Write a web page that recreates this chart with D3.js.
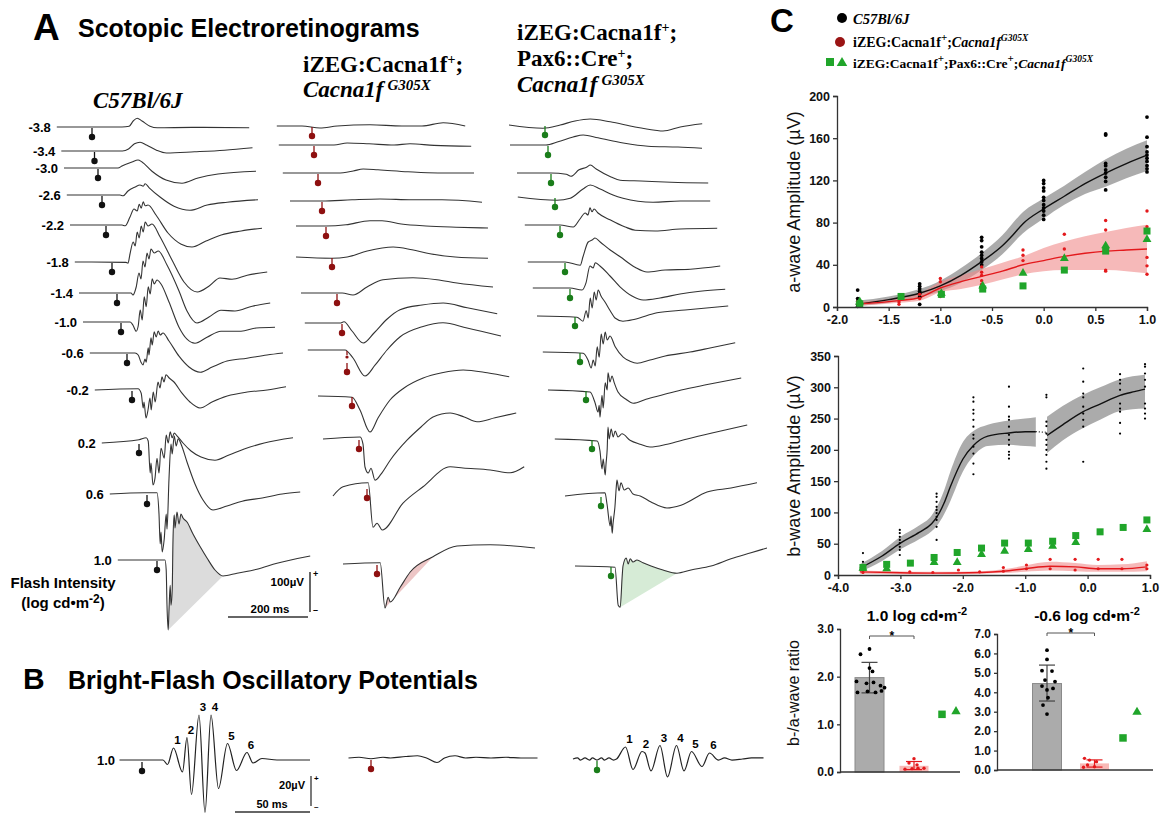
<!DOCTYPE html>
<html><head><meta charset="utf-8">
<script src="https://cdn.jsdelivr.net/npm/d3@7"></script>
<style>body{margin:0;background:#fff}svg{display:block}</style>
</head><body>
<script>
// ================= DATA =================
const intensities = ["-3.8","-3.4","-3.0","-2.6","-2.2","-1.8","-1.4","-1.0","-0.6","-0.2","0.2","0.6","1.0"];
// ERG traces: [time ms from flash, amplitude µV]
const ergWT = [
 [[-88,0],[75,0],[93,2],[103,15],[113,22],[125,15],[145,2],[163,-2],[250,-1],[393,-2]],
 [[-83,0],[70,0],[85,5],[100,18],[114,22],[130,15],[155,2],[180,-5],[250,-2],[325,2],[395,8]],
 [[-85,0],[50,0],[60,5],[85,15],[100,20],[110,15],[135,-8],[170,-30],[210,-38],[250,-25],[300,-15],[395,-8]],
 [[-88,0],[45,0],[53,-2],[65,10],[83,20],[95,25],[103,22],[108,28],[118,18],[145,-5],[180,-28],[220,-38],[263,-25],[313,-18],[390,-12]],
 [[-90,0],[40,0],[48,-2],[60,20],[70,40],[78,35],[83,52],[88,42],[93,58],[98,48],[105,50],[125,25],[155,-20],[188,-48],[215,-55],[250,-40],[288,-25],[338,-15],[390,-8]],
 [[-93,0],[35,-1],[40,-3],[45,20],[53,50],[58,40],[63,75],[68,60],[73,90],[78,75],[83,100],[90,90],[100,95],[120,63],[150,5],[180,-50],[213,-75],[243,-60],[270,-40],[300,-43],[338,-33],[388,-25]],
 [[-95,0],[35,0],[40,-5],[48,15],[55,50],[60,35],[65,80],[70,65],[75,100],[80,85],[85,110],[93,100],[103,105],[125,70],[155,5],[175,-45],[200,-75],[230,-60],[260,-43],[295,-45],[338,-33],[383,-25]],
 [[-95,0],[23,0],[30,-8],[38,-23],[43,-10],[48,30],[53,5],[58,63],[63,38],[68,88],[73,70],[78,108],[83,95],[90,105],[100,95],[120,50],[145,-13],[165,-43],[185,-53],[215,-38],[250,-23],[300,-23],[338,-15],[385,-13]],
 [[-93,0],[20,0],[28,-5],[35,-23],[40,-30],[45,-15],[48,-23],[53,13],[55,-5],[60,38],[63,20],[68,53],[73,40],[78,55],[83,45],[90,50],[105,30],[130,-8],[155,-35],[183,-48],[213,-35],[250,-20],[300,-13],[350,-5],[390,0]],
 [[-93,0],[15,3],[23,-8],[28,-45],[30,-30],[35,-70],[40,-50],[45,-20],[48,-50],[53,-5],[58,-30],[65,20],[70,5],[75,33],[80,20],[85,38],[93,30],[105,20],[125,-8],[145,-30],[170,-45],[200,-30],[238,-15],[288,-5],[338,0],[385,8]],
 [[-93,0],[0,8],[18,13],[23,5],[28,-75],[30,-50],[35,-105],[40,-88],[45,-38],[50,-75],[55,-13],[63,-38],[68,20],[73,0],[78,28],[83,13],[88,25],[95,18],[110,0],[130,-20],[155,-35],[190,-43],[225,-30],[263,-15],[313,0],[385,13]],
 [[-93,0],[-5,3],[25,3],[30,-50],[33,-125],[35,-95],[38,-145],[43,-113],[48,-50],[50,-88],[55,38],[60,125],[63,100],[68,145],[73,120],[78,138],[85,125],[100,80],[120,25],[140,-15],[165,-40],[200,-30],[238,-18],[288,-10],[338,0],[383,5]],
 [[-98,0],[20,0],[23,-25],[25,-113],[28,-175],[30,-125],[33,-63],[35,-113],[38,-75],[40,50],[43,113],[45,80],[50,120],[55,90],[60,115],[65,105],[75,95],[90,65],[108,33],[125,5],[145,-25],[165,-40],[200,-33],[250,-23],[300,-8],[383,10]]
];
const ergMut = [
 [[-88,0],[-25,0],[20,-5],[63,0],[145,3],[225,0],[275,0],[328,8],[383,0]],
 [[-88,0],[0,0],[50,0],[83,5],[138,3],[200,0],[240,3],[300,-1],[393,-3]],
 [[-88,0],[0,0],[50,0],[88,5],[113,10],[150,8],[225,3],[300,0],[390,0]],
 [[-80,0],[0,0],[75,3],[145,5],[225,3],[300,3],[400,-3]],
 [[-75,0],[0,0],[50,3],[110,13],[140,13],[188,5],[250,0],[325,-3],[405,-5]],
 [[-90,0],[0,-3],[38,0],[88,15],[153,25],[200,18],[245,8],[308,0],[390,-3]],
 [[-90,0],[13,0],[40,-5],[75,15],[115,33],[190,38],[250,33],[300,25],[390,15]],
 [[-93,0],[-5,0],[5,3],[25,-20],[53,-50],[80,-25],[113,10],[145,33],[200,45],[253,50],[313,38],[388,23]],
 [[-98,0],[-5,0],[15,-20],[45,-65],[70,-38],[100,0],[133,33],[188,58],[240,68],[300,55],[385,35]],
 [[-85,0],[0,-3],[20,-35],[45,-90],[65,-55],[95,-10],[130,20],[178,45],[225,58],[278,65],[338,58],[393,48]],
 [[-90,0],[3,5],[10,-13],[15,-70],[23,-85],[30,-73],[40,-103],[55,-88],[78,-53],[120,-3],[155,30],[185,55],[228,65],[263,55],[295,43],[340,53],[393,65]],
 [[-85,-20],[-60,3],[3,13],[15,-98],[25,-88],[38,-105],[90,-38],[140,3],[208,53],[240,50],[308,45],[358,38],[393,53]],
 [[-85,0],[8,3],[20,-110],[28,-83],[33,-95],[58,-58],[83,-20],[140,18],[200,45],[283,48],[395,40]]
];
const ergRes = [
 [[-90,0],[-5,-8],[38,0],[75,10],[113,15],[163,8],[225,-5],[275,-13],[295,-15],[338,-5],[393,3]],
 [[-95,0],[-5,0],[25,8],[63,20],[88,25],[125,18],[188,5],[250,-3],[325,-5],[385,-8]],
 [[-85,0],[0,0],[38,-3],[50,-8],[70,8],[90,15],[98,20],[113,10],[150,-10],[173,-18],[225,-20],[300,-23],[393,-25]],
 [[-93,0],[5,-8],[38,-3],[70,20],[88,30],[113,20],[145,5],[170,-3],[245,-13],[313,-10],[388,-10]],
 [[-88,0],[0,0],[33,-5],[50,15],[63,30],[70,25],[75,43],[80,33],[85,40],[95,30],[125,13],[163,-5],[188,-13],[238,-15],[300,-10],[393,-8]],
 [[-93,0],[0,0],[38,-8],[45,13],[58,50],[68,55],[75,60],[88,50],[113,30],[138,13],[175,-13],[205,-25],[250,-20],[313,-18],[388,-10]],
 [[-93,0],[0,0],[30,-5],[40,13],[50,55],[58,50],[63,63],[75,55],[100,30],[125,3],[155,-20],[183,-30],[225,-25],[275,-15],[325,-8],[388,-3]],
 [[-95,0],[5,-3],[20,-13],[28,13],[33,-5],[38,45],[43,20],[48,60],[53,40],[58,65],[65,50],[75,35],[88,13],[100,-5],[120,-13],[150,-8],[205,8],[275,15],[383,25]],
 [[-93,0],[8,-3],[20,-20],[28,-40],[33,-20],[38,-35],[43,13],[48,-13],[53,45],[58,20],[63,50],[68,30],[75,40],[88,13],[108,-13],[125,-23],[143,-28],[175,-20],[213,-10],[275,0],[325,10],[388,23]],
 [[-95,0],[10,-5],[23,-33],[30,-55],[33,-38],[35,-68],[40,-13],[43,-45],[48,18],[53,0],[55,43],[60,20],[65,35],[70,20],[80,-5],[100,-23],[118,-33],[150,-23],[188,-13],[238,0],[300,13],[388,30]],
 [[-93,0],[13,-5],[20,-30],[25,-75],[28,-50],[33,-90],[35,-63],[38,-25],[40,30],[43,0],[48,25],[53,5],[58,20],[65,5],[75,13],[95,-3],[120,-13],[145,-20],[188,-13],[238,0],[300,15],[388,35]],
 [[-90,0],[10,8],[15,-20],[23,-75],[25,-50],[28,-93],[30,-70],[35,-25],[38,20],[40,40],[45,13],[50,33],[58,15],[68,20],[80,5],[98,0],[125,-15],[165,-30],[200,-23],[265,10],[325,20],[390,33]],
 [[-90,0],[10,-3],[18,-98],[23,-103],[28,-25],[30,0],[38,20],[43,5],[48,18],[55,10],[65,15],[80,8],[100,0],[130,-10],[165,-18],[200,-10],[250,0],[300,18],[350,33],[390,45]]
];
// shaded b-wave area for bright flash (ms range)
const fillRanges = [[28,165],[20,150],[23,165]];

// Oscillatory potentials (ms, µV)
const opWT = [[-15,0],[14,0],[17,-3],[21,8],[27,-8],[30,15],[33,-23],[38,30],[42,-35],[46,30],[51,-19],[57,11],[63,-7],[70,5],[74,-2],[80,1],[90,0],[112,0]];
const opMut = [[-15,0],[-8,0.5],[0,-0.5],[8,0.5],[13,0],[23,1],[31,1.5],[37,0],[44,-3],[49,0],[56,1.5],[63,0],[70,0.5],[80,0],[90,0.5],[100,0],[111,0]];
const opRes = [[-16,0],[-13,0.7],[-11,-0.7],[-8,0.7],[-5,-0.7],[-3,0.7],[0,-0.7],[3,0.7],[5,-0.7],[8,0.7],[11,-0.7],[13,0],[19,8],[24,-7],[30,5],[32,4],[36,-8],[42,9],[47,-12],[53,9],[58,-8],[63,5],[70,-5],[75,4],[81,-0.7],[85,0.7],[90,-0.7],[97,0],[103,0.7],[111,0.7]];
const opPeaksWT = [3,5,7,9,11,13];
const opPeaksRes = [12,14,17,19,21,23];
const opNames = ["1","2","3","4","5","6"];

// Panel C: a-wave
const awTicksX = [-2,-1.5,-1,-0.5,0,0.5,1];
const awTicksY = [0,40,80,120,160,200];
const awWTDots = [[-1.8,[16,8,5,2.5,0.6]],[-1.2,[22,19.6,17.4,14.9,12.7,9.5,2.5]],[-0.6,[66,63,57,52,49,46,43,40]],[0,[120,117,113,110,104,101,97,94,91,87,83]],[0.6,[164,163,136,134,130,127,123,119,111]],[1,[180,161,152,147,144,141,138,134,131,128]]];
const awWTFit = [[-1.8,2.5],[-1.5,7],[-1.2,13],[-1.0,20],[-0.8,30],[-0.6,43],[-0.4,58],[-0.3,68],[-0.2,79],[0,93],[0.2,105],[0.4,117],[0.6,127],[0.8,136],[1,144]];
const awWTBand = [[-1.8,1,6],[-1.5,4,10],[-1.2,9.5,17],[-1.0,15,25],[-0.8,23,37],[-0.6,35,51],[-0.4,50,68],[-0.2,70,90],[0,84,103],[0.2,97,115],[0.4,107,128],[0.6,114,140],[0.8,122,150],[1,129,158]];
const awMutDots = [[-1.8,[3.2,5]],[-1.4,[2.5,4.7]],[-1.2,[12,8]],[-1.0,[27,24,13.6,10]],[-0.6,[38,33,30,25,21.5]],[-0.2,[54,49,44]],[0.2,[69,55,46]],[0.6,[82,73,35,34]],[1,[91,76,47,39,31]]];
const awMutFit = [[-1.8,3],[-1.4,6],[-1.2,9],[-1.0,18],[-0.8,24],[-0.6,29],[-0.4,34],[-0.2,40],[0,44],[0.2,48],[0.4,51],[0.6,53],[0.8,54],[1,55]];
const awMutBand = [[-1.8,1,5],[-1.4,4,9],[-1.2,6,13],[-1.0,14,24],[-0.8,17,30],[-0.6,21,36],[-0.4,26,42],[-0.2,31,48],[0,34,56],[0.2,35,62],[0.4,35,67],[0.6,35,71],[0.8,34,75],[1,32,78]];
const awResSq = [[-1.78,3],[-1.38,10],[-0.99,12],[-0.59,17],[-0.2,20],[0.2,35],[0.6,53],[1,72]];
const awResTri = [[-1.78,5],[-0.99,13],[-0.59,20],[-0.2,32],[0.2,46],[0.6,58],[1,64]];

// Panel C: b-wave
const bwTicksX = [-4,-3,-2,-1,0,1];
const bwTicksY = [0,50,100,150,200,250,300,350];
const bwWTDots = [[-3.6,[35,21,13,9,7]],[-3.01,[72,67,61,56,51,45,40,32]],[-2.42,[130,125,117,109,104,99,93,88,77,56]],[-1.83,[284,277,264,258,248,237,224,218,205,194,178,161]],[-1.26,[301,269,253,248,237,224,216,208,197,192,186]],[-0.66,[288,284,245,238,226,216,208,200,192,181,170]],[-0.07,[330,309,290,284,269,258,248,237,181]],[0.52,[321,312,306,296,274,266,261,243,226]],[0.92,[337,333,322,312,301,274,266,258,250]]];
const bwWTFit1 = [[-3.65,11],[-3.3,30],[-3.0,51],[-2.7,68],[-2.5,82],[-2.42,92],[-2.3,115],[-2.2,141],[-2.0,185],[-1.83,207],[-1.6,222],[-1.26,227],[-1.0,229],[-0.83,229]];
const bwWTBand1 = [[-3.65,5,17],[-3.3,22,38],[-3.0,41,61],[-2.7,57,79],[-2.5,70,95],[-2.42,78,108],[-2.3,97,135],[-2.2,118,165],[-2.0,165,212],[-1.83,190,230],[-1.6,206,240],[-1.26,208,247],[-1.0,206,250],[-0.83,205,252]];
const bwWTFit2 = [[-0.65,223],[-0.4,240],[-0.07,261],[0.2,273],[0.52,287],[0.75,293],[0.92,297]];
const bwWTBand2 = [[-0.65,195,253],[-0.4,215,270],[-0.07,235,288],[0.2,248,300],[0.52,262,313],[0.92,266,320]];
const bwWTBridge = [[-0.83,229],[-0.65,228]];
const bwMutDots = [[-3.6,[4]],[-2.85,[5]],[-2.48,[4]],[-2.07,[8]],[-1.73,[5]],[-1.35,[12,6]],[-0.98,[16,10]],[-0.6,[25,10]],[-0.2,[25,8]],[0.17,[25,10]],[0.55,[25,10]],[0.95,[16,10]]];
const bwMutFit = [[-3.65,5],[-3.0,3.5],[-2.5,3],[-1.7,4],[-1.35,6],[-1.0,10],[-0.6,14],[-0.2,13],[0.17,10],[0.55,10],[0.95,13]];
const bwMutBand = [[-3.65,2,7],[-2.5,1,5],[-1.7,2,6],[-1.35,3,9],[-1.0,5,15],[-0.6,7,21],[-0.2,6,19],[0.17,5,16],[0.55,5,17],[0.95,6,22]];
const bwResSq = [[-3.6,12],[-3.22,17],[-2.84,19],[-2.46,28],[-2.09,36],[-1.7,43],[-1.33,51],[-0.95,51],[-0.56,54],[-0.19,63],[0.2,69],[0.57,76],[0.95,88]];
const bwResTri = [[-3.6,11],[-3.22,10],[-2.46,20],[-2.09,20],[-1.7,33],[-1.33,38],[-0.95,41],[-0.56,46],[-0.19,52],[0.95,73]];

// Panel C: b/a ratio bars
const barGroups = ["C57Bl/6J","iZEG:Cacna1f+;Cacna1fG305X","iZEG:Cacna1f+;Pax6::Cre+;Cacna1fG305X"];
const ratioTitles = ["1.0 log cd\u2022m","-0.6 log cd\u2022m"];
const ratioTicks = [[0,1,2,3],[0,1,2,3,4,5,6,7]];
const ratioMeans = [[1.98,0.13],[4.45,0.34]];
const ratioErr = [[[1.66,2.30],[0.05,0.22]],[[3.55,5.40],[0.15,0.52]]];
const ratioDotsWT = [[2.58,2.47,2.18,2.11,1.90,1.86,1.88,1.81,1.77,1.67,1.69,1.67,1.70],[6.17,5.69,5.11,5.09,4.63,4.55,4.32,4.2,4.12,3.72,3.34,2.88]];
const ratioDotsMut = [[0.28,0.19,0.15,0.06,0.07,0.08,0.08],[0.6,0.51,0.43,0.26,0.17,0.14]];
const ratioResSq = [1.21,1.65];
const ratioResTri = [1.27,2.98];

// ================= LAYOUT / STYLE =================
const SANS = "'Liberation Sans',Arial,Helvetica,sans-serif";
const SERIF = "'Liberation Serif','Times New Roman',Times,serif";
const flashX = [[92,94.5,98,102,106,112,117,121,127,132,139,147,157],[312,314,318,322,326,332,337,342,347,352,359,367,377],[545,548,551,555,560,565,570,575,580,586,592,601,611]];
const baseY = [[127,151,168,195,225,262,293,322,353,390,443,494,560],[126,145,173,201,226,257,293,323,350,396,439,488,564],[125,145,173,197,225,262,288,316,352,390,439,496,566]];
const markColors = ["#111","#8e1010","#1a7d1a"];
const fillColors = ["#dcdcdc","#edc6c6","#d6ebd6"];
const opFlash = [142,371,597], opBase = [760,758,759];
const GREEN = "#20a52a", RED = "#e3191c", DKRED="#9a1414";

const svg = d3.select("body").append("svg").attr("width",1164).attr("height",814);

function txt(x,y,s,o){
  o=o||{};
  return svg.append("text").attr("x",x).attr("y",y).text(s)
    .attr("font-family",o.f||SANS).attr("font-size",o.s||12)
    .attr("font-weight",o.w||"bold").attr("font-style",o.i?"italic":"normal")
    .attr("text-anchor",o.a||"start").attr("fill",o.c||"#000");
}
function rich(x,y,parts,o){
  const t=svg.append("text").attr("x",x).attr("y",y).attr("font-family",o.f||SERIF)
    .attr("font-size",o.s).attr("font-weight","bold").attr("fill","#000").attr("text-anchor",o.a||"start");
  let shift=0;
  parts.forEach(p=>{
    const sp=t.append("tspan").text(p.t);
    if(p.i) sp.attr("font-style","italic");
    if(p.fs) sp.attr("font-size",p.fs);
    if(p.dx) sp.attr("dx",p.dx);
    const target=p.sup? -p.sup : 0;
    if(target!==shift){ sp.attr("dy",target-shift); shift=target; }
  });
  return t;
}

// ---------- Panel A ----------
txt(33,40,"A",{s:37});
txt(78,37,"Scotopic Electroretinograms",{s:25});
txt(93,108,"C57Bl/6J",{f:SERIF,s:23,i:1});
rich(303,72,[{t:"iZEG:Cacna1f"},{t:"+",sup:8,fs:14},{t:";"}],{s:23});
rich(303,97,[{t:"Cacna1f",i:1},{t:"G305X",i:1,sup:7,fs:15,dx:4}],{s:23});
rich(517,40,[{t:"iZEG:Cacna1f"},{t:"+",sup:8,fs:14},{t:";"}],{s:23});
rich(517,66,[{t:"Pax6::Cre"},{t:"+",sup:8,fs:14},{t:";"}],{s:23});
rich(517,92,[{t:"Cacna1f",i:1},{t:"G305X",i:1,sup:7,fs:15,dx:4}],{s:23});

const msA = d3.scaleLinear().domain([0,200]).range([0,80]);
const uvA = d3.scaleLinear().domain([0,100]).range([0,-40]);
const groups = [ergWT, ergMut, ergRes];

groups.forEach((traces,ci)=>{
  traces.forEach((pts,ri)=>{
    const fx=flashX[ci][ri], by=baseY[ci][ri];
    const line=d3.line().x(d=>fx+msA(d[0])).y(d=>by+uvA(d[1])).curve(d3.curveMonotoneX);
    if(ri===traces.length-1){
      const fr=fillRanges[ci];
      const sub=pts.filter(d=>d[0]>=fr[0]&&d[0]<=fr[1]);
      svg.append("path").attr("d",line(sub)+"Z").attr("fill",fillColors[ci]).attr("stroke","none");
    }
    svg.append("path").attr("d",line(pts)).attr("fill","none").attr("stroke","#333").attr("stroke-width",1.1);
    // flash marker
    const mc=markColors[ci];
    if(ci===1 && ri===8){
      svg.append("line").attr("x1",fx).attr("x2",fx).attr("y1",by+1).attr("y2",by+5).attr("stroke",mc).attr("stroke-width",1.3);
      svg.append("circle").attr("cx",fx).attr("cy",by+7).attr("r",1.6).attr("fill",mc);
      svg.append("line").attr("x1",fx).attr("x2",fx).attr("y1",by+13).attr("y2",by+19).attr("stroke",mc).attr("stroke-width",1.3);
      svg.append("circle").attr("cx",fx).attr("cy",by+22).attr("r",3.2).attr("fill",mc);
    } else {
      svg.append("line").attr("x1",fx).attr("x2",fx).attr("y1",by+1).attr("y2",by+8).attr("stroke",mc).attr("stroke-width",1.3);
      svg.append("circle").attr("cx",fx).attr("cy",by+10).attr("r",3.2).attr("fill",mc);
    }
    if(ci===0){
      txt(fx+msA(pts[0][0])-6, by+5, intensities[ri], {s:13,a:"end"});
    }
  });
});
// scale bars A
{
  const x0=310, y0=612;
  svg.append("line").attr("x1",x0).attr("x2",x0).attr("y1",y0).attr("y2",y0+uvA(100)).attr("stroke","#333").attr("stroke-width",1.5);
  svg.append("line").attr("x1",x0-2).attr("x2",x0-2-msA(200)).attr("y1",617).attr("y2",617).attr("stroke","#333").attr("stroke-width",1.5);
  txt(304,586,"100\u00b5V",{s:11.5,a:"end"});
  txt(270,613,"200 ms",{s:11.5,a:"middle"});
  txt(313,577,"+",{s:9});
  txt(313,613,"\u2013",{s:9});
  txt(63,588,"Flash Intensity",{s:15,a:"middle"});
  rich(63,608,[{t:"(log cd\u2022m"},{t:"-2",sup:5,fs:12},{t:")"}],{f:SANS,s:15,a:"middle"});
}

// ---------- Panel B ----------
txt(23,689,"B",{s:30});
txt(68,689,"Bright-Flash Oscillatory Potentials",{s:25});
const msB = d3.scaleLinear().domain([0,50]).range([0,75]);
const uvB = d3.scaleLinear().domain([0,20]).range([0,-30]);
[opWT,opMut,opRes].forEach((pts,ci)=>{
  const fx=opFlash[ci], by=opBase[ci];
  const line=d3.line().x(d=>fx+msB(d[0])).y(d=>by+uvB(d[1])).curve(d3.curveMonotoneX);
  svg.append("path").attr("d",line(pts)).attr("fill","none").attr("stroke","#222").attr("stroke-width",1.2);
  const mc=markColors[ci];
  svg.append("line").attr("x1",fx).attr("x2",fx).attr("y1",by+2).attr("y2",by+8).attr("stroke",mc).attr("stroke-width",1.3);
  svg.append("circle").attr("cx",fx).attr("cy",by+11).attr("r",3.2).attr("fill",mc);
  const pk = ci===0?opPeaksWT:(ci===2?opPeaksRes:null);
  if(pk) pk.forEach((idx,k)=>{
    const d=pts[idx];
    txt(fx+msB(d[0])+4, by+uvB(d[1])-4, opNames[k], {s:11.5,a:"middle"});
  });
});
txt(115,765,"1.0",{s:13,a:"end"});
{
  const x0=311, y0=806;
  svg.append("line").attr("x1",x0).attr("x2",x0).attr("y1",y0).attr("y2",y0+uvB(20)).attr("stroke","#333").attr("stroke-width",1.3);
  svg.append("line").attr("x1",x0-1).attr("x2",x0-1-msB(50)).attr("y1",812).attr("y2",812).attr("stroke","#333").attr("stroke-width",1.5);
  txt(305,789,"20\u00b5V",{s:11,a:"end"});
  txt(272,808,"50 ms",{s:11,a:"middle"});
  txt(314,781,"+",{s:8});
  txt(314,809,"\u2013",{s:8});
}

// ---------- Panel C ----------
txt(770,32,"C",{s:33});
// legend
svg.append("circle").attr("cx",842).attr("cy",18).attr("r",5).attr("fill","#000");
txt(853,24,"C57Bl/6J",{f:SERIF,s:14.5,i:1});
svg.append("circle").attr("cx",840).attr("cy",42).attr("r",5).attr("fill",DKRED);
rich(853,47,[{t:"iZEG:Cacna1f"},{t:"+",sup:6,fs:11},{t:";"},{t:"Cacna1f",i:1},{t:"G305X",i:1,sup:6,fs:9.5}],{s:14});
svg.append("rect").attr("x",826).attr("y",58).attr("width",8).attr("height",8).attr("fill",GREEN);
svg.append("path").attr("d",d3.symbol(d3.symbolTriangle,48)()).attr("transform","translate(842,63)").attr("fill",GREEN);
rich(853,68,[{t:"iZEG:Cacna1f"},{t:"+",sup:6,fs:11},{t:";Pax6::Cre"},{t:"+",sup:6,fs:11},{t:";"},{t:"Cacna1f",i:1},{t:"G305X",i:1,sup:6,fs:9.5}],{s:13.5});

const fmt1 = d=>d3.format(".1f")(d).replace("\u2212","-");
function styleAxis(g,fs){
  g.selectAll("path.domain").attr("stroke","#333").attr("stroke-width",1.3);
  g.selectAll(".tick line").attr("stroke","#333").attr("stroke-width",1.3);
  g.selectAll("text").attr("font-family",SANS).attr("font-weight","bold").attr("font-size",fs).attr("fill","#111");
}
function yTitle(x,y,s,fs){
  svg.append("text").attr("transform",`translate(${x},${y}) rotate(-90)`).attr("text-anchor","middle")
    .attr("font-family",SANS).attr("font-size",fs).attr("fill","#111").text(s);
}
function scatterGroups(x,y,data,r,col){
  data.forEach(([xv,vals])=>vals.forEach(v=>svg.append("circle").attr("cx",x(xv)).attr("cy",y(v)).attr("r",r).attr("fill",col)));
}
function squares(x,y,data,s){
  data.forEach(d=>svg.append("rect").attr("x",x(d[0])-s/2).attr("y",y(d[1])-s/2).attr("width",s).attr("height",s).attr("fill",GREEN));
}
function triangles(x,y,data,a){
  data.forEach(d=>svg.append("path").attr("d",d3.symbol(d3.symbolTriangle,a)()).attr("transform",`translate(${x(d[0])},${y(d[1])})`).attr("fill",GREEN));
}
function band(x,y,data,col,op){
  const ar=d3.area().x(d=>x(d[0])).y0(d=>y(d[1])).y1(d=>y(d[2])).curve(d3.curveMonotoneX);
  svg.append("path").attr("d",ar(data)).attr("fill",col).attr("fill-opacity",op);
}
function fit(x,y,data,col,w,dash){
  const ln=d3.line().x(d=>x(d[0])).y(d=>y(d[1])).curve(d3.curveMonotoneX);
  const p=svg.append("path").attr("d",ln(data)).attr("fill","none").attr("stroke",col).attr("stroke-width",w);
  if(dash) p.attr("stroke-dasharray",dash);
}

// a-wave chart
{
  const x=d3.scaleLinear().domain([-2,1]).range([837,1147]);
  const y=d3.scaleLinear().domain([0,200]).range([307,96]);
  band(x,y,awWTBand,"#8f8f8f",0.75);
  band(x,y,awMutBand,"#f08a8a",0.6);
  fit(x,y,awWTFit,"#111",1.4);
  fit(x,y,awMutFit,RED,1.4);
  scatterGroups(x,y,awWTDots,1.9,"#000");
  scatterGroups(x,y,awMutDots,1.7,RED);
  squares(x,y,awResSq,7);
  triangles(x,y,awResTri,34);
  const gx=svg.append("g").attr("transform","translate(0,307)").call(d3.axisBottom(x).tickValues(awTicksX).tickFormat(fmt1).tickSize(4).tickPadding(4));
  styleAxis(gx,12.5);
  const gy=svg.append("g").attr("transform","translate(837,0)").call(d3.axisLeft(y).tickValues(awTicksY).tickFormat(d3.format("d")).tickSize(4).tickPadding(3));
  styleAxis(gy,12.5);
  yTitle(800,202,"a-wave Amplitude (\u00b5V)",18);
}
// b-wave chart
{
  const x=d3.scaleLinear().domain([-4,1]).range([838,1150]);
  const y=d3.scaleLinear().domain([0,350]).range([575,356]);
  band(x,y,bwWTBand1,"#8f8f8f",0.75);
  band(x,y,bwWTBand2,"#8f8f8f",0.75);
  band(x,y,bwMutBand,"#f08a8a",0.6);
  fit(x,y,bwWTFit1,"#111",1.4);
  fit(x,y,bwWTFit2,"#111",1.4);
  fit(x,y,bwWTBridge,"#111",1.2,"1,2");
  fit(x,y,bwMutFit,RED,1.4);
  scatterGroups(x,y,bwWTDots,1.1,"#000");
  scatterGroups(x,y,bwMutDots,1.6,RED);
  squares(x,y,bwResSq,7);
  triangles(x,y,bwResTri,34);
  const gx=svg.append("g").attr("transform","translate(0,575)").call(d3.axisBottom(x).tickValues(bwTicksX).tickFormat(fmt1).tickSize(4).tickPadding(4));
  styleAxis(gx,12.5);
  const gy=svg.append("g").attr("transform","translate(838,0)").call(d3.axisLeft(y).tickValues(bwTicksY).tickFormat(d3.format("d")).tickSize(4).tickPadding(3));
  styleAxis(gy,12.5);
  yTitle(800,466,"b-wave Amplitude (\u00b5V)",18);
}
// ratio bar charts
{
  const frames=[{ax:840,x1:960,y0:772,y1:629,cx:[869.5,914,949],title:917,br:636},{ax:997,x1:1153,y0:770,y1:634,cx:[1047,1094.5,1130],title:1087,br:633}];
  const wtJit=[[0,-9,0,3,-13,-3,4,11,15,-12,-2,6,12],[0,0,-5,5,-2,8,-5,6,0,1,-4,0]];
  const mutJit=[[0,-5,3,-9,-2,4,10],[-10,-5,2,-7,0,-11]];
  frames.forEach((fr,k)=>{
    const y=d3.scaleLinear().domain([0,ratioTicks[k][ratioTicks[k].length-1]]).range([fr.y0,fr.y1]);
    const cx=d3.scaleOrdinal().domain(barGroups).range(fr.cx);
    const bw=29;
    svg.append("rect").attr("x",cx(barGroups[0])-bw/2).attr("y",y(ratioMeans[k][0])).attr("width",bw).attr("height",y(0)-y(ratioMeans[k][0]))
      .attr("fill","#ababab").attr("stroke","#8a8a8a").attr("stroke-width",1);
    svg.append("rect").attr("x",cx(barGroups[1])-bw/2).attr("y",y(ratioMeans[k][1])).attr("width",bw).attr("height",y(0)-y(ratioMeans[k][1]))
      .attr("fill","#f8b9b6").attr("stroke","none");
    [[0,"#444"],[1,RED]].forEach(([gi,col])=>{
      const e=ratioErr[k][gi], c=cx(barGroups[gi]);
      svg.append("line").attr("x1",c).attr("x2",c).attr("y1",y(e[0])).attr("y2",y(e[1])).attr("stroke",col).attr("stroke-width",1.2);
      [e[0],e[1]].forEach(v=>svg.append("line").attr("x1",c-8).attr("x2",c+8).attr("y1",y(v)).attr("y2",y(v)).attr("stroke",col).attr("stroke-width",1.2));
    });
    ratioDotsWT[k].forEach((v,i)=>svg.append("circle").attr("cx",cx(barGroups[0])+wtJit[k][i]).attr("cy",y(v)).attr("r",1.9).attr("fill","#000"));
    ratioDotsMut[k].forEach((v,i)=>svg.append("circle").attr("cx",cx(barGroups[1])+mutJit[k][i]).attr("cy",y(v)).attr("r",1.7).attr("fill",RED));
    const rc=cx(barGroups[2]);
    svg.append("rect").attr("x",rc-7-3.75).attr("y",y(ratioResSq[k])-3.75).attr("width",7.5).attr("height",7.5).attr("fill",GREEN);
    svg.append("path").attr("d",d3.symbol(d3.symbolTriangle,38)()).attr("transform",`translate(${rc+7},${y(ratioResTri[k])})`).attr("fill",GREEN);
    const gy=svg.append("g").attr("transform",`translate(${fr.ax},0)`).call(d3.axisLeft(y).tickValues(ratioTicks[k]).tickFormat(fmt1).tickSize(3).tickPadding(3));
    styleAxis(gy,12);
    svg.append("line").attr("x1",fr.ax).attr("x2",fr.x1).attr("y1",fr.y0).attr("y2",fr.y0).attr("stroke","#333").attr("stroke-width",1.3);
    const bx0=cx(barGroups[0]), bx1=cx(barGroups[1]), byy=fr.br;
    svg.append("path").attr("d",`M${bx0},${byy+3}V${byy}H${bx1}V${byy+3}`).attr("fill","none").attr("stroke","#555").attr("stroke-width",1);
    txt((bx0+bx1)/2,byy+4,"*",{s:12,a:"middle"});
    rich(fr.title,621,[{t:ratioTitles[k]},{t:"-2",sup:6,fs:11}],{f:SANS,s:15.5,a:"middle"});
  });
  yTitle(799,693,"b-/a-wave ratio",16);
}
</script>
</body></html>
